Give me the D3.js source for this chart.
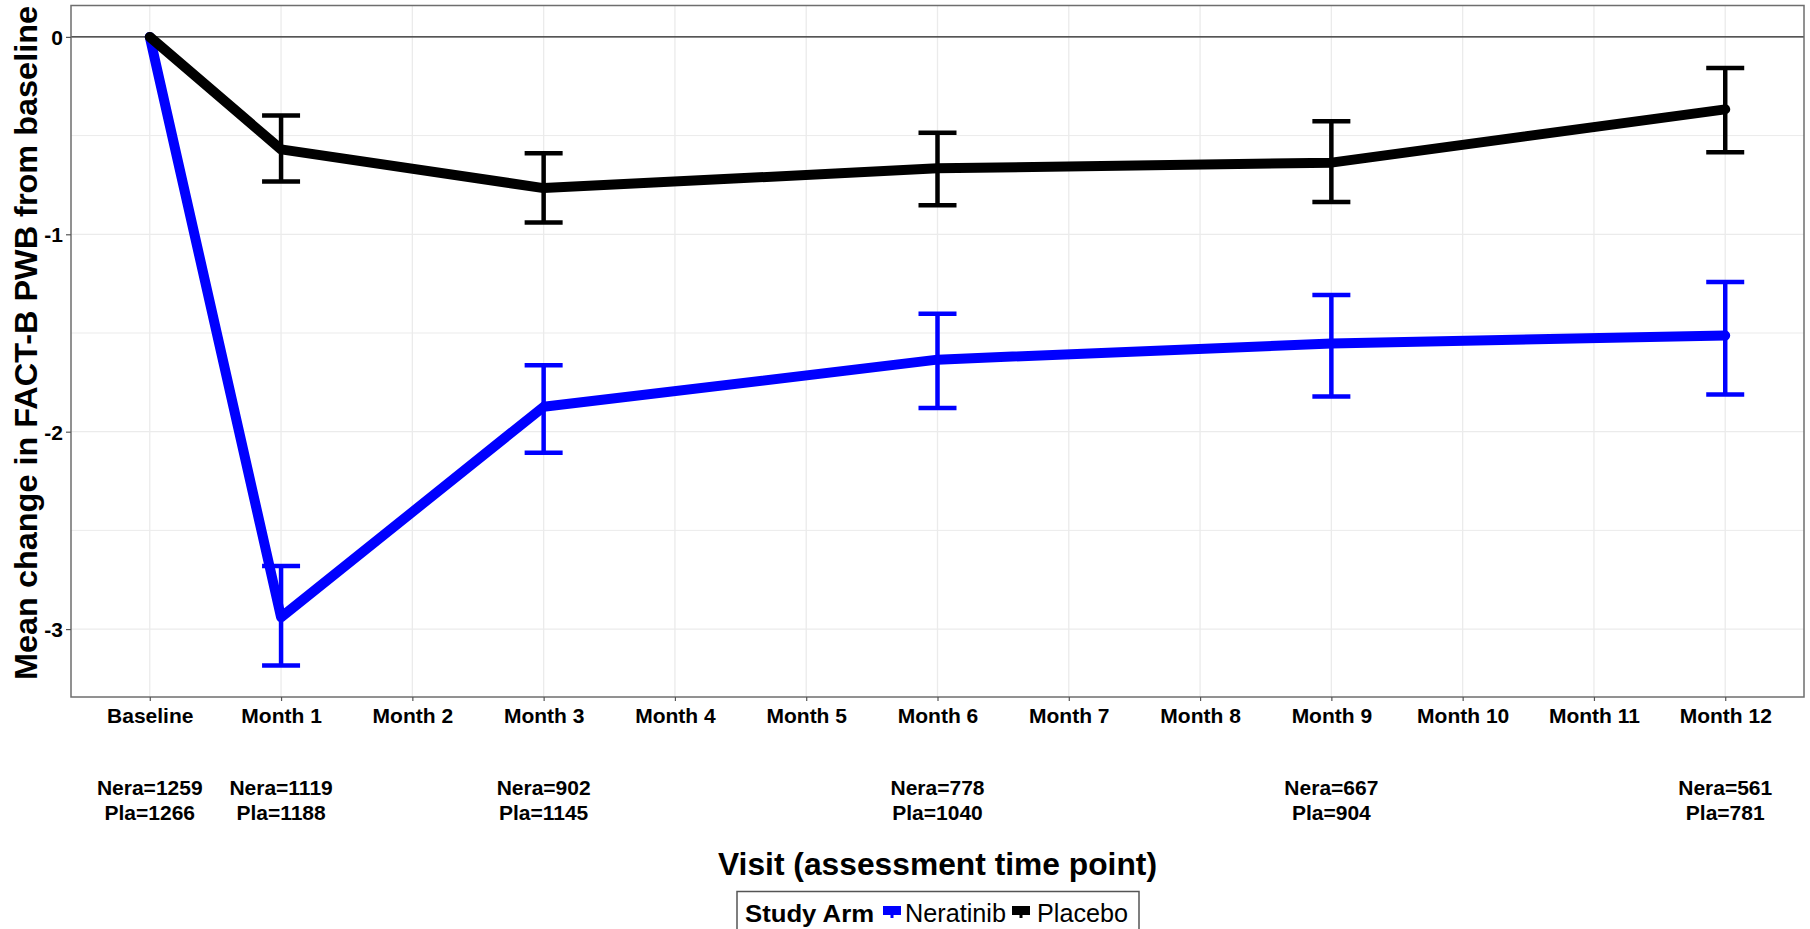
<!DOCTYPE html>
<html>
<head>
<meta charset="utf-8">
<script src="https://cdn.jsdelivr.net/npm/d3@7"></script>
<style>
html,body{margin:0;padding:0;background:#fff;}
svg{display:block;}
text{font-family:"Liberation Sans",Arial,sans-serif;}
</style>
</head>
<body>
<svg id="chart" width="1810" height="929"></svg>
<script>
// ---- data ----
const categories = ["Baseline","Month 1","Month 2","Month 3","Month 4","Month 5","Month 6","Month 7","Month 8","Month 9","Month 10","Month 11","Month 12"];
const visits = ["Baseline","Month 1","Month 3","Month 6","Month 9","Month 12"];
const neraMean  = [0, -2.94, -1.874, -1.635, -1.553, -1.513];
const neraLower = [0, -3.185, -2.107, -1.88, -1.822, -1.811];
const neraUpper = [0, -2.68, -1.663, -1.402, -1.308, -1.242];
const plaMean   = [0, -0.57, -0.766, -0.666, -0.637, -0.367];
const plaLower  = [0, -0.733, -0.94, -0.853, -0.836, -0.585];
const plaUpper  = [0, -0.398, -0.59, -0.485, -0.427, -0.157];
const neraN = [1259, 1119, 902, 778, 667, 561];
const plaN  = [1266, 1188, 1145, 1040, 904, 781];
const yTicks = [0, -1, -2, -3];
const yMinor = [-0.5, -1.5, -2.5];
const seriesNames = ["Neratinib", "Placebo"];
const seriesColors = ["#0000ff", "#000000"];

// ---- layout ----
const P = {left: 71, right: 1804, top: 5.5, bottom: 697};
const svg = d3.select("#chart");

const x = d3.scalePoint().domain(categories).range([P.left, P.right]).padding(0.6);
const y = d3.scaleLinear().domain([-3.344, 0.159]).range([P.bottom, P.top]);

// gridlines
const grid = svg.append("g");
grid.selectAll("line.minor").data(yMinor).join("line")
  .attr("x1", P.left).attr("x2", P.right)
  .attr("y1", d => y(d)).attr("y2", d => y(d))
  .attr("stroke", "#ebebeb").attr("stroke-width", 1);
grid.selectAll("line.majory").data(yTicks).join("line")
  .attr("x1", P.left).attr("x2", P.right)
  .attr("y1", d => y(d)).attr("y2", d => y(d))
  .attr("stroke", "#ebebeb").attr("stroke-width", 1.3);
grid.selectAll("line.majorx").data(categories).join("line")
  .attr("x1", d => x(d)).attr("x2", d => x(d))
  .attr("y1", P.top).attr("y2", P.bottom)
  .attr("stroke", "#ebebeb").attr("stroke-width", 1.3);

// zero line
svg.append("line")
  .attr("x1", P.left).attr("x2", P.right)
  .attr("y1", y(0)).attr("y2", y(0))
  .attr("stroke", "#222").attr("stroke-width", 1.2);

// series
const series = [
  {name: seriesNames[0], color: seriesColors[0], mean: neraMean, lo: neraLower, hi: neraUpper},
  {name: seriesNames[1], color: seriesColors[1], mean: plaMean, lo: plaLower, hi: plaUpper}
];
const line = d3.line().x(d => x(d.v)).y(d => y(d.m));
const capHalf = 19;
series.forEach(s => {
  const pts = visits.map((v, i) => ({v, m: s.mean[i], lo: s.lo[i], hi: s.hi[i]}));
  const g = svg.append("g");
  g.append("path").datum(pts)
    .attr("d", line).attr("fill", "none")
    .attr("stroke", s.color).attr("stroke-width", 10)
    .attr("stroke-linejoin", "round").attr("stroke-linecap", "round");
  const eb = pts.filter(d => d.lo !== d.hi);
  g.selectAll("line.v").data(eb).join("line")
    .attr("x1", d => x(d.v)).attr("x2", d => x(d.v))
    .attr("y1", d => y(d.lo)).attr("y2", d => y(d.hi))
    .attr("stroke", s.color).attr("stroke-width", 4.5);
  ["lo", "hi"].forEach(k => {
    g.selectAll("line.c" + k).data(eb).join("line")
      .attr("x1", d => x(d.v) - capHalf).attr("x2", d => x(d.v) + capHalf)
      .attr("y1", d => y(d[k])).attr("y2", d => y(d[k]))
      .attr("stroke", s.color).attr("stroke-width", 4.5);
  });
});

// panel border
svg.append("rect")
  .attr("x", P.left).attr("y", P.top)
  .attr("width", P.right - P.left).attr("height", P.bottom - P.top)
  .attr("fill", "none").attr("stroke", "#6e6e6e").attr("stroke-width", 1.5);

// y axis
const yAxis = svg.append("g").attr("transform", `translate(${P.left},0)`)
  .call(d3.axisLeft(y).tickValues(yTicks).tickFormat(d => String(d)).tickSize(5).tickPadding(3));
yAxis.select(".domain").remove();
yAxis.selectAll(".tick line").attr("stroke", "#555").attr("stroke-width", 1.2);
yAxis.selectAll(".tick text").attr("font-size", 21).attr("font-weight", "bold")
  .attr("fill", "#000").attr("font-family", "Liberation Sans, Arial, sans-serif")
  .attr("dy", "0.36em");

// x axis
const xAxis = svg.append("g").attr("transform", `translate(0,${P.bottom})`)
  .call(d3.axisBottom(x).tickSize(4).tickPadding(0));
xAxis.select(".domain").remove();
xAxis.selectAll(".tick line").attr("stroke", "#555").attr("stroke-width", 1.2);
xAxis.selectAll(".tick text").attr("font-size", 21).attr("font-weight", "bold")
  .attr("fill", "#000").attr("font-family", "Liberation Sans, Arial, sans-serif")
  .attr("y", 25.5).attr("dy", 0);

// N labels
const nl = svg.append("g").attr("font-size", 21).attr("font-weight", "bold").attr("text-anchor", "middle");
nl.selectAll("text.n").data(visits).join("text")
  .attr("x", d => x(d)).attr("y", 795)
  .text((d, i) => "Nera=" + neraN[i]);
nl.selectAll("text.p").data(visits).join("text")
  .attr("x", d => x(d)).attr("y", 820)
  .text((d, i) => "Pla=" + plaN[i]);

// axis titles
svg.append("text")
  .attr("x", (P.left + P.right) / 2).attr("y", 875)
  .attr("text-anchor", "middle").attr("font-size", 31).attr("font-weight", "bold")
  .attr("textLength", 439).attr("lengthAdjust", "spacingAndGlyphs")
  .text("Visit (assessment time point)");
svg.append("text")
  .attr("transform", "translate(36.5,343) rotate(-90)")
  .attr("text-anchor", "middle").attr("font-size", 32).attr("font-weight", "bold")
  .attr("textLength", 674).attr("lengthAdjust", "spacingAndGlyphs")
  .text("Mean change in FACT-B PWB from baseline");

// legend
const lg = svg.append("g");
lg.append("rect").attr("x", 737).attr("y", 891.5).attr("width", 402).attr("height", 50)
  .attr("fill", "#fff").attr("stroke", "#555").attr("stroke-width", 1.5);
lg.append("text").attr("x", 745).attr("y", 922).attr("font-size", 24).attr("font-weight", "bold")
  .attr("textLength", 129).attr("lengthAdjust", "spacingAndGlyphs").text("Study Arm");
const keyX = [883, 1012];
const labX = [905, 1037];
const labW = [101, 91];
series.forEach((s, i) => {
  lg.append("rect").attr("x", keyX[i]).attr("y", 906).attr("width", 18).attr("height", 9).attr("fill", s.color);
  lg.append("rect").attr("x", keyX[i] + 7.5).attr("y", 914).attr("width", 3).attr("height", 4).attr("fill", s.color);
  lg.append("text").attr("x", labX[i]).attr("y", 922).attr("font-size", 25)
    .attr("textLength", labW[i]).attr("lengthAdjust", "spacingAndGlyphs").text(s.name);
});
</script>
</body>
</html>
